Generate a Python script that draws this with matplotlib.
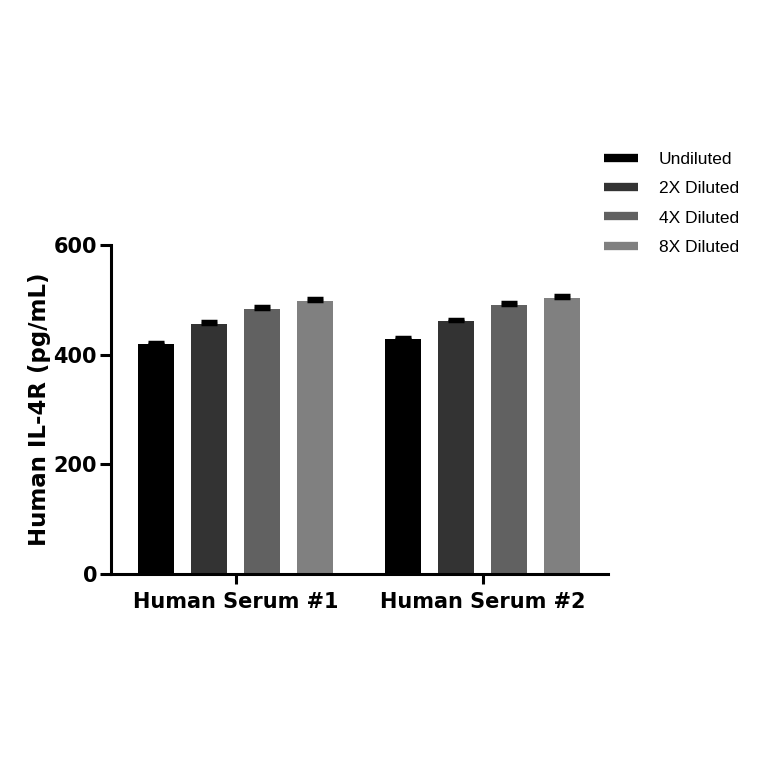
import matplotlib.pyplot as plt
from matplotlib.lines import Line2D
import numpy as np

groups = ['Human Serum #1', 'Human Serum #2']
series = ['Undiluted', '2X Diluted', '4X Diluted', '8X Diluted']
colors = ['#000000', '#333333', '#616161', '#808080']
values_s1 = [420, 456, 484, 498]
values_s2 = [428, 461, 491, 504]
errors_s1 = [4, 6, 5, 6]
errors_s2 = [4, 4, 5, 5]

fig = plt.figure(figsize=(7.64, 7.64), dpi=100)
ax = fig.add_axes([0.1453, 0.2487, 0.6505, 0.4306])

group_start = [0, 4.67]
for i in range(4):
    xs = [group_start[0] + i, group_start[1] + i]
    vals = [values_s1[i], values_s2[i]]
    errs = [errors_s1[i], errors_s2[i]]
    ax.bar(xs, vals, width=0.68, color=colors[i], zorder=2)
    ax.errorbar(xs, vals, yerr=[[0, 0], errs], fmt='none', ecolor='black',
                elinewidth=2, capsize=6, capthick=2.5, zorder=3)

ax.set_xlim(-0.85, 8.53)
ax.set_ylim(0, 600)
ax.set_yticks([0, 200, 400, 600])
ax.set_xticks([g + 1.5 for g in group_start])
ax.set_xticklabels(groups)

for s in ['top', 'right']:
    ax.spines[s].set_visible(False)
for s in ['left', 'bottom']:
    ax.spines[s].set_linewidth(2.2)

ax.tick_params(axis='y', length=8, width=2.2, labelsize=15, pad=2)
ax.tick_params(axis='x', length=7, width=2.2, labelsize=15, pad=6)
for lab in ax.get_xticklabels() + ax.get_yticklabels():
    lab.set_fontweight('bold')
    lab.set_family('DejaVu Sans')

ax.set_ylabel('Human IL-4R (pg/mL)', fontsize=16.5, fontweight='bold', labelpad=2)

handles = [Line2D([0], [0], color=c, lw=6, solid_capstyle='butt') for c in colors]
fig.legend(handles, series, loc='upper left', bbox_to_anchor=(0.7705, 0.822),
           frameon=False, handlelength=1.95, handletextpad=1.2,
           labelspacing=0.82, prop={'family': 'Liberation Sans', 'size': 12.5})

fig.savefig('out.png', dpi=100)
